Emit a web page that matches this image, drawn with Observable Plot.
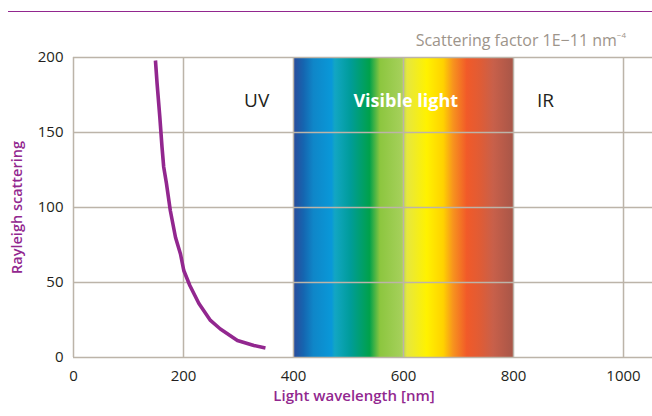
<!DOCTYPE html>
<html>
<head>
<meta charset="utf-8">
<script src="https://cdn.jsdelivr.net/npm/d3@7"></script>
<script src="https://cdn.jsdelivr.net/npm/@observablehq/plot@0.6"></script>
<style>
  html, body { margin: 0; padding: 0; background: #fff; }
  #wrap { width: 652px; font-family: "Open Sans", sans-serif; position: relative; }
  #header { position: relative; height: 40px; }
  #topline { position: absolute; left: 8px; right: 0; top: 11.3px; border-top: 1.6px solid #92278f; }
  #subtitle { position: absolute; right: 26px; top: 30.5px; font-size: 16px; font-weight: 500; line-height: 18px; color: #9d948a; white-space: nowrap; z-index: 2; }
  #subtitle sup { font-size: 8px; vertical-align: 8px; line-height: 0; }
  svg { display: block; }
</style>
</head>
<body>
<div id="wrap">
  <div id="header">
    <div id="topline"></div>
    <div id="subtitle">Scattering factor 1E−11 nm<sup>−4</sup></div>
  </div>
  <div id="chart"></div>
</div>
<script>
// Rayleigh scattering curve
const wavelength = [149, 152, 157, 161, 164, 169, 176, 185.5, 194.5, 200.5, 211.5, 228, 249, 267, 298, 328, 349];
const scattering = [198, 182.5, 160, 140, 127, 116, 98, 80, 69, 58, 48, 36, 24.7, 19, 11.3, 8, 6.4];

// Visible spectrum band and its gradient stops
const bandStart = 400;
const bandEnd = 800;
const stopWavelength = [400, 419, 437, 470, 476, 504, 539, 558, 597, 607, 643, 673, 691, 716, 740, 764, 800];
const stopColor = ["#2b4a9a", "#1565b0", "#0f86c8", "#0998d8", "#12a6c4", "#009c9a", "#00a14b", "#8cc63f", "#a5d05a", "#e6e73f", "#fff200", "#ffd200", "#f7931e", "#f15a29", "#e05c35", "#c8604a", "#a85648"];

// Region labels
const regionNames = ["UV", "Visible light", "IR"];
const regionX = [333, 604, 858];
const regionY = [171, 171, 171];

// Axis ticks
const xTicks = [0, 200, 400, 600, 800, 1000];
const yTicks = [0, 50, 100, 150, 200];

const curve = wavelength.map((w, i) => ({w, s: scattering[i]}));
const regions = regionNames.map((n, i) => ({n, x: regionX[i], y: regionY[i]}));

const purple = "#92278f";
const gridColor = "#bcb4a9";

const gradientDefs = (index, scales) => {
  const defs = d3.create("svg:defs");
  const g = defs.append("linearGradient")
    .attr("id", "spectrum")
    .attr("gradientUnits", "userSpaceOnUse")
    .attr("x1", scales.x(bandStart)).attr("x2", scales.x(bandEnd))
    .attr("y1", 0).attr("y2", 0);
  stopWavelength.forEach((w, i) => {
    g.append("stop")
      .attr("offset", (w - bandStart) / (bandEnd - bandStart))
      .attr("stop-color", stopColor[i]);
  });
  return defs.node();
};

const chart = Plot.plot({
  width: 652,
  height: 376,
  marginLeft: 73,
  marginRight: 0,
  marginTop: 17,
  marginBottom: 59,
  style: {fontFamily: "Open Sans, sans-serif", fontSize: "15px", color: "#231f20", background: "transparent", overflow: "visible"},
  x: {domain: [0, 1052.7], ticks: xTicks, tickSize: 0, tickPadding: 13, label: null, tickFormat: d3.format("d")},
  y: {domain: [0, 200], ticks: yTicks, tickSize: 0, tickPadding: 10, label: null},
  marks: [
    gradientDefs,
    Plot.rect([{x1: bandStart, x2: bandEnd}], {x1: "x1", x2: "x2", y1: 0, y2: 200, fill: "url(#spectrum)"}),
    Plot.gridY(yTicks.filter(d => d > 0), {stroke: gridColor, strokeOpacity: 1, strokeWidth: 1.3}),
    Plot.gridX(xTicks.filter(d => d > 0), {stroke: gridColor, strokeOpacity: 1, strokeWidth: 1.5}),
    Plot.ruleY([0], {stroke: gridColor, strokeWidth: 1.5}),
    Plot.ruleX([0], {stroke: gridColor, strokeWidth: 1.5}),
    Plot.axisX(xTicks, {tickSize: 0, tickPadding: 13, label: null, fontSize: 15, tickFormat: d3.format("d")}),
    Plot.axisY(yTicks, {tickSize: 0, tickPadding: 10, label: null, fontSize: 15}),
    Plot.line(curve, {x: "w", y: "s", stroke: purple, strokeWidth: 3.6, strokeLinejoin: "round", strokeLinecap: "butt"}),
    Plot.text(regions.filter(d => d.n !== "Visible light"), {x: "x", y: "y", text: "n", fill: "#231f20", fontSize: 19, fontWeight: 400}),
    Plot.text(regions.filter(d => d.n === "Visible light"), {x: "x", y: "y", text: "n", fill: "#ffffff", fontSize: 18, fontWeight: 700}),
    Plot.text(["Light wavelength [nm]"], {frameAnchor: "bottom", dx: -9, dy: 43, fill: purple, fontSize: 15, fontWeight: 600}),
    Plot.text(["Rayleigh scattering"], {frameAnchor: "left", rotate: -90, textAnchor: "middle", dx: -56, fill: purple, fontSize: 14.5, fontWeight: 600})
  ]
});
document.getElementById("chart").appendChild(chart);
</script>
</body>
</html>
